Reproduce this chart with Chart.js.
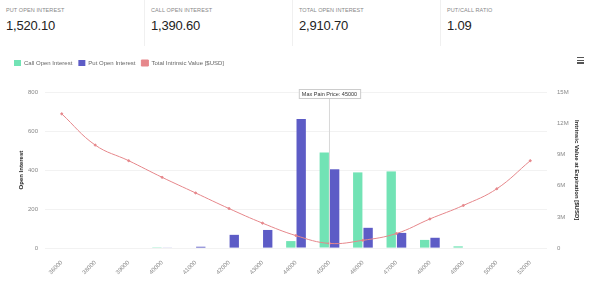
<!DOCTYPE html>
<html>
<head>
<meta charset="utf-8">
<script src="https://cdn.jsdelivr.net/npm/chart.js@4.4.0/dist/chart.umd.min.js"></script>
<style>
body { margin: 0; background: #fff; font-family: "Liberation Sans", Arial, sans-serif; width: 598px; height: 281px; overflow: hidden; }
.stats { display: flex; height: 46px; }
.stat { width: 148px; padding: 7px 0 0 6px; box-sizing: border-box; border-right: 1px solid #f0f0f0; }
.stat:first-child { width: 145px; }
.stat:last-child { border-right: none; }
.lbl { font-size: 5.5px; color: #888; text-transform: uppercase; letter-spacing: 0.1px; }
.val { font-size: 13px; color: #222; margin-top: 5px; letter-spacing: -0.2px; }
.menu { position: absolute; left: 577px; top: 57px; width: 7px; }
.menu div { height: 1.3px; background: #555; margin-bottom: 1.4px; }
#wrap { position: absolute; left: 0; top: 50px; width: 598px; height: 231px; }
</style>
</head>
<body>
<div class="stats">
  <div class="stat"><div class="lbl">Put Open Interest</div><div class="val">1,520.10</div></div>
  <div class="stat"><div class="lbl">Call Open Interest</div><div class="val">1,390.60</div></div>
  <div class="stat"><div class="lbl">Total Open Interest</div><div class="val">2,910.70</div></div>
  <div class="stat"><div class="lbl">Put/Call Ratio</div><div class="val">1.09</div></div>
</div>
<div class="menu"><div></div><div></div><div></div></div>
<div id="wrap"><canvas id="myChart"></canvas></div>
<script>
const strikes = ['36000', '38000', '39000', '40000', '41000', '42000', '43000', '44000', '45000', '46000', '47000', '48000', '49000', '50000', '52000'];
const callOI = [0, 0, 0, 1, 0, 0, 0, 36, 490, 388, 393, 42, 9, 0, 0];
const putOI = [0, 0, 0, 2, 7, 68, 93, 662, 404, 104, 78, 53, 0, 0, 0];
const intrinsic = [12.9, 9.9, 8.4, 6.8, 5.3, 3.8, 2.4, 1.2, 0.45, 0.75, 1.4, 2.8, 4.1, 5.7, 8.4].map(v => v * 1e6);
const maxPain = '45000';

// extra room under the legend
const legendGap = {
    id: 'legendGap',
    beforeInit(chart) {
        const fit = chart.legend.fit;
        chart.legend.fit = function () {
            fit.bind(chart.legend)();
            this.height += 16;
        };
    }
};

const maxPainLine = {
    id: 'maxPainLine',
    afterDatasetsDraw(chart) {
        const x = chart.scales.x.getPixelForValue(strikes.indexOf(maxPain));
        const top = chart.chartArea.top;
        const bottom = chart.chartArea.bottom;
        const c = chart.ctx;
        c.save();
        c.strokeStyle = '#d8d8d8';
        c.lineWidth = 1;
        c.beginPath();
        c.moveTo(x, top);
        c.lineTo(x, bottom);
        c.stroke();
        c.font = '5.5px "Liberation Sans", Arial';
        const txt = 'Max Pain Price: ' + maxPain;
        const w = c.measureText(txt).width + 6;
        c.fillStyle = '#fff';
        c.fillRect(x - w / 2, top - 3, w, 9);
        c.strokeStyle = '#ccc';
        c.strokeRect(x - w / 2 + 0.5, top - 2.5, w, 9);
        c.fillStyle = '#333';
        c.textAlign = 'center';
        c.textBaseline = 'middle';
        c.fillText(txt, x, top + 2);
        c.restore();
    }
};

const ctx = document.getElementById('myChart');

new Chart(ctx, {
    type: 'bar',
    data: {
        labels: strikes,
        datasets: [{
            label: 'Call Open Interest',
            data: callOI,
            backgroundColor: '#72e3b5',
            yAxisID: 'y',
            order: 2
        }, {
            label: 'Put Open Interest',
            data: putOI,
            backgroundColor: '#5d5cc6',
            yAxisID: 'y',
            order: 2
        }, {
            type: 'line',
            label: 'Total Intrinsic Value [$USD]',
            data: intrinsic,
            borderColor: '#e6878b',
            backgroundColor: '#e6878b',
            borderWidth: 1,
            pointRadius: 1,
            tension: 0.4,
            yAxisID: 'y1',
            order: 1
        }]
    },
    plugins: [legendGap, maxPainLine],
    options: {
        responsive: true,
        maintainAspectRatio: false,
        animation: false,
        layout: { padding: { left: 8, right: 8, top: 4, bottom: 2 } },
        datasets: { bar: { categoryPercentage: 0.62, barPercentage: 0.9 } },
        plugins: {
            tooltip: { enabled: false },
            legend: {
                align: 'start',
                labels: {
                    boxWidth: 7, boxHeight: 6, padding: 6, color: '#666', font: { size: 6 },
                    sort: (a, b) => a.datasetIndex - b.datasetIndex
                }
            }
        },
        scales: {
            x: {
                grid: { display: false },
                border: { display: false },
                ticks: { color: '#888', font: { size: 6 }, maxRotation: 45, minRotation: 45 },
                afterFit(scale) {
                    scale.paddingLeft = 0;
                    scale.paddingRight = 0;
                }
            },
            y: {
                min: 0, max: 800,
                ticks: { stepSize: 200, color: '#888', font: { size: 6 }, padding: 7 },
                grid: { color: '#f2f2f2', drawTicks: false },
                border: { display: false },
                title: { display: true, text: 'Open Interest', color: '#222', padding: { top: 10, bottom: 4 }, font: { size: 6, weight: 'bold' } },
                afterFit(scale) { scale.width = 37; }
            },
            y1: {
                position: 'right',
                min: 0, max: 15e6,
                ticks: {
                    stepSize: 3e6, color: '#888', font: { size: 6 }, padding: 10,
                    callback: v => v === 0 ? '0' : (v / 1e6) + 'M'
                },
                grid: { display: false, drawTicks: false },
                border: { display: false },
                title: { display: true, text: 'Intrinsic Value at Expiration [$USD]', color: '#222', padding: { top: 10, bottom: 4 }, font: { size: 6, weight: 'bold' } },
                afterFit(scale) { scale.width = 43; }
            }
        }
    }
});
</script>
</body>
</html>
